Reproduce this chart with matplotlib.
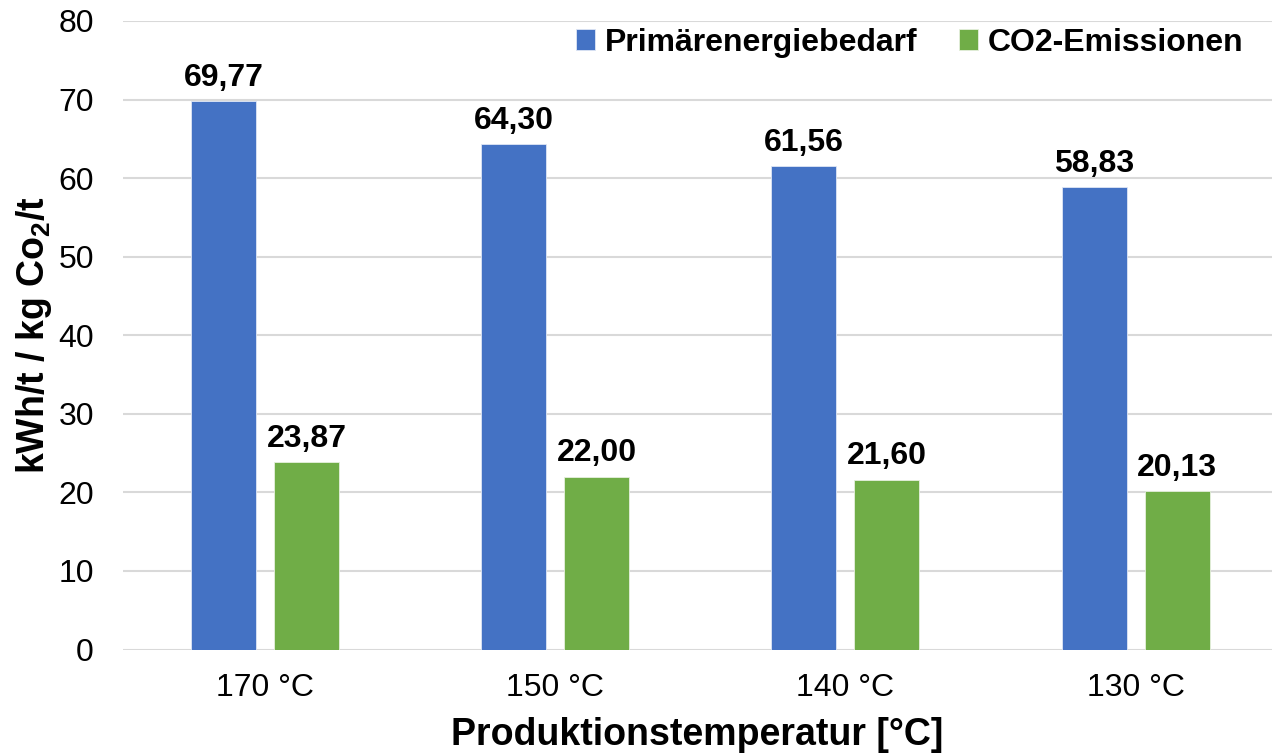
import numpy as np
import matplotlib.pyplot as plt

plt.rcParams['font.family'] = ['Liberation Sans', 'DejaVu Sans']
plt.rcParams['mathtext.fontset'] = 'custom'
plt.rcParams['mathtext.bf'] = 'Liberation Sans:bold'
plt.rcParams['mathtext.rm'] = 'Liberation Sans'

# Werte je Produktionstemperatur
temperaturen = ['170 °C', '150 °C', '140 °C', '130 °C']
primaerenergie = [69.77, 64.30, 61.56, 58.83]
co2_emissionen = [23.87, 22.00, 21.60, 20.13]

fig = plt.figure(figsize=(12.72, 7.55), dpi=100)
ax = fig.add_axes([123 / 1272, 105.5 / 755, 1149 / 1272, 628.5 / 755])

x = np.arange(len(temperaturen))
w = 0.224
off = 0.143
b1 = ax.bar(x - off, primaerenergie, w, color='#4472C4', edgecolor='#dfe6f5',
            linewidth=0.6, label='Primärenergiebedarf', zorder=3)
b2 = ax.bar(x + off, co2_emissionen, w, color='#70AD47', edgecolor='#e6f0de',
            linewidth=0.6, label='CO2-Emissionen', zorder=3)

# Beschriftung der Balken (deutsches Dezimalkomma)
for bars in (b1, b2):
    for rect in bars:
        v = rect.get_height()
        ax.annotate(f'{v:.2f}'.replace('.', ','),
                    (rect.get_x() + rect.get_width() / 2, v),
                    xytext=(0, 6), textcoords='offset points',
                    ha='center', va='bottom', fontsize=23, fontweight='bold')

ax.set_xlim(-0.49, 3.47)
ax.set_ylim(0, 80)
ax.set_yticks(np.arange(0, 81, 10))
ax.set_xticks(x)
ax.set_xticklabels(temperaturen)
ax.tick_params(axis='y', length=0, pad=21, labelsize=23)
ax.tick_params(axis='x', length=0, pad=17, labelsize=23)
ax.grid(axis='y', color='#d9d9d9', linewidth=1.5, zorder=0)
ax.set_axisbelow(True)
for s in ax.spines.values():
    s.set_visible(False)

ax.set_xlabel('Produktionstemperatur [°C]', fontsize=27, fontweight='bold', labelpad=10)
ax.set_ylabel(r'kWh/t / kg Co$_{\mathbf{2}}$/t', fontsize=27, fontweight='bold', labelpad=3)

ax.legend(loc='upper right', bbox_to_anchor=(1.0, 1.035), ncol=2, frameon=False,
          prop={'size': 23, 'weight': 'bold'}, handlelength=0.6, handleheight=0.6,
          handletextpad=0.3, columnspacing=1.3)

fig.savefig('out.png', dpi=100)
